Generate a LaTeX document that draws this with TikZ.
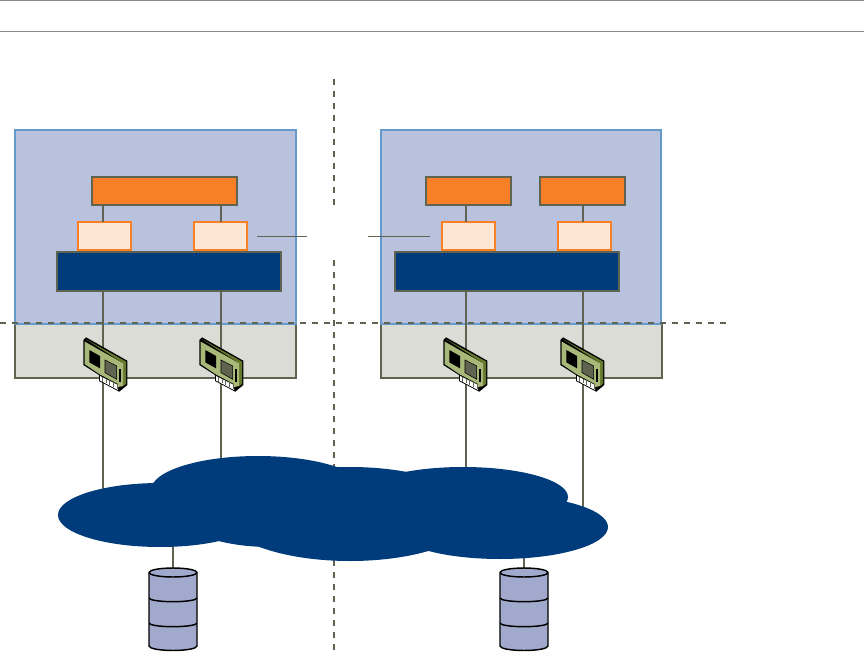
\documentclass[tikz,border=0pt]{standalone}
\usepackage{amsmath,amssymb,amsthm}
\usetikzlibrary{arrows.meta,positioning,calc}
\definecolor{edgegray}{HTML}{5F6350}
\definecolor{ruleGray}{HTML}{8A8A8A}
\definecolor{hostblue}{HTML}{B9C2DC}
\definecolor{hostedge}{HTML}{6699CC}
\definecolor{hwgray}{HTML}{DBDCD5}
\definecolor{apporange}{HTML}{F78026}
\definecolor{portpeach}{HTML}{FEE6D5}
\definecolor{navy}{HTML}{003C7B}
\definecolor{diskblue}{HTML}{A1AACC}
\definecolor{nicgreen}{HTML}{A8B878}
\definecolor{nicdark}{HTML}{66782C}
\tikzset{
  box/.style={draw=edgegray,line width=1.5pt,outer sep=0pt,inner sep=0pt},
  hostbox/.style={box,draw=hostedge,fill=hostblue,minimum height=144.75pt},
  hwbox/.style={box,fill=hwgray,minimum height=40.5pt},
  appbox/.style={box,fill=apporange,minimum height=20.6pt},
  portbox/.style={box,draw=apporange,fill=portpeach,minimum width=39.4pt,minimum height=21pt},
  vswbox/.style={box,fill=navy,minimum width=168pt,minimum height=28.9pt},
  wire/.style={draw=edgegray,line width=1.5pt},
  thinwire/.style={draw=edgegray,line width=0.75pt},
  border/.style={draw=edgegray,line width=1.5pt,dash pattern=on 4.5pt off 4.5pt},
  nic/.pic={
    \fill[black] (-19.7,-25) -- (-17,-27.7) -- (24.3,-4.3) -- (24.3,20) -- (16.3,26.7)
      -- (-4,16) -- (-4,10) -- (-19.7,0) -- cycle;
    \fill[nicdark] (-17,-25.7) -- (23,-3.5) -- (23,19) -- (20,21) -- (20,-1.7) -- cycle;
    \fill[nicgreen] (-18.5,-23.5) -- (20,-1.7) -- (20,21) -- (15,22) -- (15,19) -- (-3,9.5) -- (-18.5,-1) -- cycle;
    \fill[black] (-13.7,-15) -- (-3,-9) -- (-3,3.3) -- (-13.7,-2.7) -- cycle;
    \filldraw[fill=edgegray,draw=black,line width=0.4pt] (2,-5) -- (13.7,1) -- (13.7,14.3) -- (2,7.7) -- cycle;
    \fill[black] (16.2,3.5) rectangle (18,16.5);
    \fill[white] (-3,11) -- (15,20) -- (15,25) -- (-3,15.5) -- cycle;
    \foreach \i in {0,...,4}
      \draw[edgegray,line width=0.5pt] (\i*3.6-0.5,12+\i*1.8) -- ++(0,4.6);
  },
  diskstack/.pic={
    \draw[black,fill=diskblue,line width=1.1pt] (-24,4.5) arc[start angle=180,end angle=360,x radius=24,y radius=4.5]
      -- (24,78) arc[start angle=0,end angle=180,x radius=24,y radius=4.5] -- cycle;
    \draw[black,line width=1.1pt] (-24,4.5) arc[start angle=180,end angle=0,x radius=24,y radius=4.5];
    \draw[black,line width=1.1pt] (-24,30) arc[start angle=180,end angle=0,x radius=24,y radius=3.7];
    \draw[black,line width=1.1pt] (-24,55) arc[start angle=180,end angle=0,x radius=24,y radius=3.7];
  },
}

\begin{document}
\begin{tikzpicture}[x=0.75pt,y=-0.75pt,>=Latex]
  \useasboundingbox (0,0) rectangle (864,656);
  % header rules
  \coordinate (ruleL) at (0,0.7);
  \coordinate (ruleR) at (864,0.7);
  \coordinate (ruleLb) at (0,31.3);
  \coordinate (ruleRb) at (864,31.3);
  \draw[ruleGray,line width=0.75pt] (ruleL) -- (ruleR);
  \draw[ruleGray,line width=0.75pt] (ruleLb) -- (ruleRb);

  % hardware strip and host boxes
  \node[hwbox,minimum width=210.75pt] (hwA) at (155.5,351) {};
  \node[hwbox,minimum width=210.75pt] (hwB) at (521.5,351) {};
  \node[hostbox,minimum width=210.75pt] (hostA) at (155.5,227) {};
  \node[hostbox,minimum width=210pt] (hostB) at (521,227) {};

  % borders
  \coordinate (splitL) at (0,323);
  \coordinate (splitR) at (727,323);
  \coordinate (siteT) at (334,79);
  \coordinate (siteM) at (334,205.5);
  \coordinate (siteN) at (334,260);
  \coordinate (siteB) at (334,656);
  \draw[border] (splitL) -- (splitR);
  \draw[border] (siteT) -- (siteM);
  \draw[border] (siteN) -- (siteB);

  % upper layers
  \node[appbox,minimum width=108.75pt] (appA) at (164.5,191) {};
  \node[appbox,minimum width=63.4pt] (appB) at (468.5,191) {};
  \node[appbox,minimum width=63.4pt] (appC) at (582.5,191) {};
  \node[portbox] (portA) at (104.5,236) {};
  \node[portbox] (portB) at (220.5,236) {};
  \node[portbox] (portC) at (468.5,236) {};
  \node[portbox] (portD) at (584.5,236) {};
  \node[vswbox] (vswA) at (169,271.5) {};
  \node[vswbox] (vswB) at (507,271.5) {};

  \coordinate (nicA) at (103,365);
  \coordinate (nicB) at (221,365);
  \coordinate (nicC) at (466,365);
  \coordinate (nicD) at (583,365);
  \coordinate (cloud) at (350,514);
  \coordinate (diskA) at (173,568);
  \coordinate (diskB) at (524,568);
  \coordinate (linkA) at (257,236);
  \coordinate (linkB) at (307,236);
  \coordinate (linkC) at (368,236);
  \coordinate (linkD) at (430,236);

  \draw[thinwire] (linkA) -- (linkB);
  \draw[thinwire] (linkC) -- (linkD);
  \draw[wire] (appA.south -| nicA) -- (portA.north -| nicA);
  \draw[wire] (appA.south -| nicB) -- (portB.north -| nicB);
  \draw[wire] (appB.south -| nicC) -- (portC.north -| nicC);
  \draw[wire] (appC.south -| nicD) -- (portD.north -| nicD);
  \draw[wire] (vswA.south -| nicA) -- (nicA |- cloud);
  \draw[wire] (vswA.south -| nicB) -- (nicB |- cloud);
  \draw[wire] (vswB.south -| nicC) -- (nicC |- cloud);
  \draw[wire] (vswB.south -| nicD) -- (nicD |- cloud);
  \draw[wire] (diskA) -- (diskA |- cloud);
  \draw[wire] (diskB) -- (diskB |- cloud);

  % adapters
  \pic at (nicA) {nic};
  \pic at ($(nicB)+(-2,0)$) {nic};
  \pic at ($(nicC)+(-3,0)$) {nic};
  \pic at ($(nicD)+(-3,0)$) {nic};

  % network cloud
  \fill[navy] (160,515) ellipse (102 and 32);
  \fill[navy] (258,490) ellipse (107 and 34);
  \fill[navy] (270,505) ellipse (100 and 42);
  \fill[navy] (cloud) ellipse (127 and 47);
  \fill[navy] (463,497) ellipse (105 and 30);
  \fill[navy] (500,527) ellipse (108 and 32);

  % storage
  \pic at (diskA) {diskstack};
  \pic at (diskB) {diskstack};
\end{tikzpicture}
\end{document}
